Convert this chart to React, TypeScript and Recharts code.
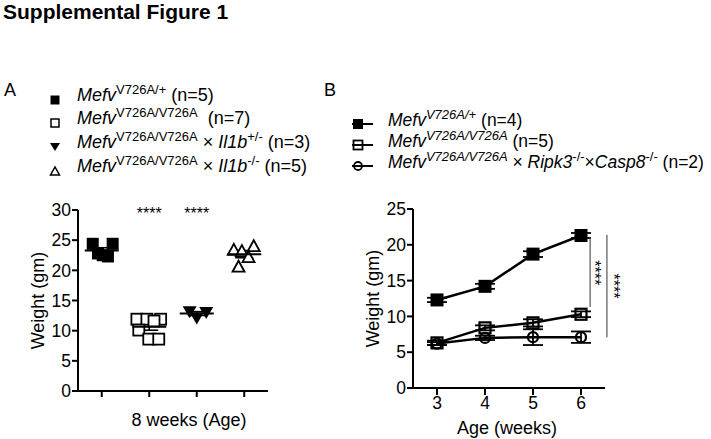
import React from "react";
import {
  ScatterChart,
  Scatter,
  LineChart,
  Line,
  XAxis,
  YAxis,
  ErrorBar,
  ReferenceDot,
  ReferenceLine,
} from "recharts";

const FONT = '"Liberation Sans", Arial, Helvetica, sans-serif';

// Panel A: weight at 8 weeks, one value per mouse
const groupPos = [1, 2, 3, 4];
const hetWeights = [24.4, 24.4, 22.8, 22.5, 22.3];
const hetJitter = [-0.19, 0.23, -0.08, 0.02, 0.13];
const homWeights = [11.9, 11.9, 11.9, 11.6, 10.1, 8.6, 8.6];
const homJitter = [-0.26, -0.05, 0.24, 0.1, -0.22, -0.01, 0.2];
const il1bHetWeights = [13.2, 12.2, 13.1];
const il1bHetJitter = [-0.15, 0, 0.2];
const il1bKoWeights = [23.4, 23.2, 24.0, 22.2, 20.6];
const il1bKoJitter = [-0.22, -0.05, 0.2, 0.09, -0.12];
const sigGroups = [2, 3];
const yTicksA = [0, 5, 10, 15, 20, 25, 30];

// Panel B: weight by age (mean +/- SEM)
const weeks = [3, 4, 5, 6];
const hetMean = [12.3, 14.2, 18.7, 21.3];
const hetSem = [0.3, 0.35, 0.4, 0.35];
const homMean = [6.3, 8.4, 9.1, 10.3];
const homSem = [0.3, 0.35, 0.5, 0.4];
const dkoMean = [6.2, 7.0, 7.1, 7.1];
const dkoSem = [0.2, 0.3, 1.1, 0.8];
const yTicksB = [0, 5, 10, 15, 20, 25];

const toPoints = (g: number, w: number[], j: number[]) =>
  w.map((y, i) => ({ x: g + j[i], y }));
const mean = (w: number[]) => w.reduce((a, b) => a + b, 0) / w.length;
const sem = (w: number[]) => {
  const m = mean(w);
  const v = w.reduce((a, b) => a + (b - m) ** 2, 0) / (w.length - 1);
  return Math.sqrt(v / w.length);
};

const groupsA = [hetWeights, homWeights, il1bHetWeights, il1bKoWeights];
const meansA = groupsA.map((w, i) => ({ x: groupPos[i], y: mean(w), sem: sem(w) }));

const dataB = weeks.map((wk, i) => ({
  week: wk,
  het: hetMean[i],
  hetSem: hetSem[i],
  hom: homMean[i],
  homSem: homSem[i],
  dko: dkoMean[i],
  dkoSem: dkoSem[i],
}));

// marker shapes
const filledSquare = (p: any) => (
  <rect x={p.cx - 6} y={p.cy - 6} width={12} height={12} fill="#000" />
);
const openSquare = (p: any) => (
  <rect x={p.cx - 5.5} y={p.cy - 5.5} width={11} height={11} fill="#fff" stroke="#000" strokeWidth={1.8} />
);
const downTri = (p: any) => (
  <polygon points={`${p.cx - 7},${p.cy - 5} ${p.cx + 7},${p.cy - 5} ${p.cx},${p.cy + 7}`} fill="#000" />
);
const upTri = (p: any) => (
  <polygon
    points={`${p.cx - 6},${p.cy + 5} ${p.cx + 6},${p.cy + 5} ${p.cx},${p.cy - 6}`}
    fill="#fff"
    stroke="#000"
    strokeWidth={1.8}
  />
);
const meanLine = (p: any) => (
  <line x1={p.cx - 17} x2={p.cx + 17} y1={p.cy} y2={p.cy} stroke="#000" strokeWidth={2} />
);

const dotFilledSq = (p: any) => (
  <rect key={`a${p.index}`} x={p.cx - 6.5} y={p.cy - 6.5} width={13} height={13} fill="#000" />
);
const dotOpenSq = (p: any) => (
  <rect key={`b${p.index}`} x={p.cx - 5.5} y={p.cy - 5.5} width={11} height={11} fill="none" stroke="#000" strokeWidth={2.2} />
);
const dotOpenCircle = (p: any) => (
  <circle key={`c${p.index}`} cx={p.cx} cy={p.cy} r={5} fill="none" stroke="#000" strokeWidth={2.2} />
);

const tickStyle = { fill: "#000", fontSize: 17.5, fontFamily: FONT };
const axisStyle = { stroke: "#000", strokeWidth: 2 };

const starsA = (props: any) => {
  const vb = props.viewBox;
  const cx = vb.x + (vb.width || 0) / 2;
  const cy = vb.y + (vb.height || 0) / 2;
  return (
    <text x={cx} y={cy + 9} textAnchor="middle" fontSize={16} fontFamily={FONT} fill="#000" stroke="none">
      ****
    </text>
  );
};

const starsB = (dx: number) => (props: any) => {
  const vb = props.viewBox;
  const cx = vb.x + (vb.width || 0) / 2 + dx;
  const cy = vb.y + (vb.height || 0) / 2;
  return (
    <text
      x={cx}
      y={cy}
      textAnchor="middle"
      fontSize={16}
      fontFamily={FONT}
      fill="#000"
      stroke="none"
      transform={`rotate(90 ${cx} ${cy})`}
    >
      ****
    </text>
  );
};

const yLabel = (dx: number) => (props: any) => {
  const vb = props.viewBox;
  const x = vb.x + dx;
  const y = vb.y + vb.height / 2;
  return (
    <text x={x} y={y} textAnchor="middle" dominantBaseline="central" fontSize={18} fontFamily={FONT} fill="#000" transform={`rotate(-90 ${x} ${y})`}>
      Weight (gm)
    </text>
  );
};

const xLabel = (text: string, dx: number, dy: number) => (props: any) => {
  const vb = props.viewBox;
  return (
    <text x={vb.x + vb.width / 2 + dx} y={vb.y + dy} textAnchor="middle" dominantBaseline="central" fontSize={18} fontFamily={FONT} fill="#000">
      {text}
    </text>
  );
};

const Sup = ({ children, italic }: { children: React.ReactNode; italic?: boolean }) => (
  <span style={{ fontSize: 13, position: "relative", top: -7, fontStyle: italic ? "italic" : "normal" }}>{children}</span>
);

const legendA = [
  { y: 100, sym: "fsq", body: (<><i>Mefv</i><Sup>V726A/+</Sup> (n=5)</>) },
  { y: 123, sym: "osq", body: (<><i>Mefv</i><Sup>V726A/V726A</Sup>&nbsp; (n=7)</>) },
  { y: 147, sym: "dtri", body: (<><i>Mefv</i><Sup>V726A/V726A</Sup> × <i>Il1b</i><Sup>+/-</Sup> (n=3)</>) },
  { y: 171, sym: "utri", body: (<><i>Mefv</i><Sup>V726A/V726A</Sup> × <i>Il1b</i><Sup>-/-</Sup> (n=5)</>) },
];

const legendB = [
  { y: 124, sym: "fsq", body: (<><i>Mefv</i><Sup italic>V726A/+</Sup> (n=4)</>) },
  { y: 145, sym: "osq", body: (<><i>Mefv</i><Sup italic>V726A/V726A</Sup> (n=5)</>) },
  { y: 166, sym: "circ", body: (<><i>Mefv</i><Sup italic>V726A/V726A</Sup> × <i>Ripk3</i><Sup>-/-</Sup>×<i>Casp8</i><Sup>-/-</Sup> (n=2)</>) },
];

function SymbolA({ sym }: { sym: string }) {
  const p = { cx: 8, cy: 8 };
  return (
    <svg width={16} height={16} style={{ position: "absolute", left: 47, top: -8 }}>
      {sym === "fsq" && <rect x={3.5} y={3.5} width={9} height={9} fill="#000" />}
      {sym === "osq" && <rect x={4} y={4} width={8} height={8} fill="#fff" stroke="#000" strokeWidth={1.5} />}
      {sym === "dtri" && <polygon points="3,4 13,4 8,12" fill="#000" />}
      {sym === "utri" && <polygon points={`${p.cx - 4.5},12 ${p.cx + 4.5},12 ${p.cx},4`} fill="#fff" stroke="#000" strokeWidth={1.5} />}
    </svg>
  );
}

function SymbolB({ sym }: { sym: string }) {
  return (
    <svg width={24} height={16} style={{ position: "absolute", left: 350, top: -8 }}>
      <line x1={2} x2={23} y1={8} y2={8} stroke="#000" strokeWidth={2} />
      {sym === "fsq" && <rect x={3} y={3} width={10} height={10} fill="#000" />}
      {sym === "osq" && <rect x={3.5} y={3.5} width={9} height={9} fill="none" stroke="#000" strokeWidth={1.8} />}
      {sym === "circ" && <circle cx={8} cy={8} r={4} fill="none" stroke="#000" strokeWidth={1.8} />}
    </svg>
  );
}

export default function App() {
  return (
    <div
      style={{
        position: "fixed",
        left: 0,
        top: 0,
        width: 711,
        height: 439,
        background: "#fff",
        fontFamily: FONT,
        color: "#000",
        overflow: "hidden",
      }}
    >
      <div style={{ position: "absolute", left: 3, top: 0, fontSize: 21, fontWeight: "bold", lineHeight: 1.15 }}>
        Supplemental Figure 1
      </div>
      <div style={{ position: "absolute", left: 4, top: 81, fontSize: 18, lineHeight: 1 }}>A</div>
      <div style={{ position: "absolute", left: 324, top: 81, fontSize: 18, lineHeight: 1 }}>B</div>

      {/* legend A */}
      {legendA.map((r, i) => (
        <div key={i} style={{ position: "absolute", left: 0, top: r.y, height: 0 }}>
          <SymbolA sym={r.sym} />
          <span style={{ position: "absolute", left: 77, top: -14, fontSize: 18, lineHeight: 1, whiteSpace: "nowrap" }}>
            {r.body}
          </span>
        </div>
      ))}

      {/* legend B */}
      {legendB.map((r, i) => (
        <div key={i} style={{ position: "absolute", left: 0, top: r.y, height: 0 }}>
          <SymbolB sym={r.sym} />
          <span style={{ position: "absolute", left: 388, top: -12, fontSize: 17.5, lineHeight: 1, whiteSpace: "nowrap" }}>
            {r.body}
          </span>
        </div>
      ))}

      {/* Panel A */}
      <div style={{ position: "absolute", left: 0, top: 180 }}>
        <ScatterChart width={300} height={259} margin={{ top: 30, right: 32, bottom: 0, left: 0 }}>
          <XAxis
            type="number"
            dataKey="x"
            domain={[0.5, 4.5]}
            ticks={groupPos}
            tickFormatter={() => ""}
            axisLine={axisStyle}
            tickLine={axisStyle}
            tickSize={6}
            height={48}
            label={xLabel("8 weeks (Age)", 16, 29)}
          />
          <YAxis
            type="number"
            dataKey="y"
            domain={[0, 30]}
            ticks={yTicksA}
            interval={0}
            tick={tickStyle}
            axisLine={axisStyle}
            tickLine={axisStyle}
            tickSize={6}
            tickMargin={1}
            width={78}
            label={yLabel(38)}
          />
          <Scatter data={toPoints(1, hetWeights, hetJitter)} shape={filledSquare} isAnimationActive={false} />
          <Scatter data={toPoints(2, homWeights, homJitter)} shape={openSquare} isAnimationActive={false} />
          <Scatter data={toPoints(3, il1bHetWeights, il1bHetJitter)} shape={downTri} isAnimationActive={false} />
          <Scatter data={toPoints(4, il1bKoWeights, il1bKoJitter)} shape={upTri} isAnimationActive={false} />
          <Scatter data={meansA} shape={meanLine} isAnimationActive={false}>
            <ErrorBar dataKey="sem" direction="y" width={9} stroke="#000" strokeWidth={1.6} />
          </Scatter>
          {sigGroups.map((g) => (
            <ReferenceDot key={g} x={g} y={30} r={0} fill="none" stroke="none" label={starsA} />
          ))}
        </ScatterChart>
      </div>

      {/* Panel B */}
      <div style={{ position: "absolute", left: 360, top: 180 }}>
        <LineChart width={351} height={259} data={dataB} margin={{ top: 29, right: 106, bottom: 0, left: 0 }}>
          <XAxis
            type="number"
            dataKey="week"
            domain={[2.5, 6.5]}
            ticks={weeks}
            tick={tickStyle}
            axisLine={axisStyle}
            tickLine={axisStyle}
            tickSize={7}
            tickMargin={2}
            height={51}
            label={xLabel("Age (weeks)", -2, 40)}
          />
          <YAxis
            type="number"
            domain={[0, 25]}
            ticks={yTicksB}
            interval={0}
            tick={tickStyle}
            axisLine={axisStyle}
            tickLine={axisStyle}
            tickSize={6}
            tickMargin={1}
            width={53}
            label={yLabel(13)}
          />
          <Line dataKey="dko" stroke="#000" strokeWidth={2.5} dot={dotOpenCircle} isAnimationActive={false}>
            <ErrorBar dataKey="dkoSem" direction="y" width={10} stroke="#000" strokeWidth={1.8} />
          </Line>
          <Line dataKey="hom" stroke="#000" strokeWidth={2.5} dot={dotOpenSq} isAnimationActive={false}>
            <ErrorBar dataKey="homSem" direction="y" width={10} stroke="#000" strokeWidth={1.8} />
          </Line>
          <Line dataKey="het" stroke="#000" strokeWidth={2.5} dot={dotFilledSq} isAnimationActive={false}>
            <ErrorBar dataKey="hetSem" direction="y" width={10} stroke="#000" strokeWidth={1.8} />
          </Line>
          <ReferenceLine
            segment={[{ x: 6.19, y: 20.9 }, { x: 6.19, y: 11.3 }]}
            stroke="#555"
            strokeWidth={1.2}
            ifOverflow="visible"
            label={starsB(-1)}
          />
          <ReferenceLine
            segment={[{ x: 6.54, y: 21.4 }, { x: 6.54, y: 7.1 }]}
            stroke="#555"
            strokeWidth={1.2}
            ifOverflow="visible"
            label={starsB(1)}
          />
        </LineChart>
      </div>
    </div>
  );
}
